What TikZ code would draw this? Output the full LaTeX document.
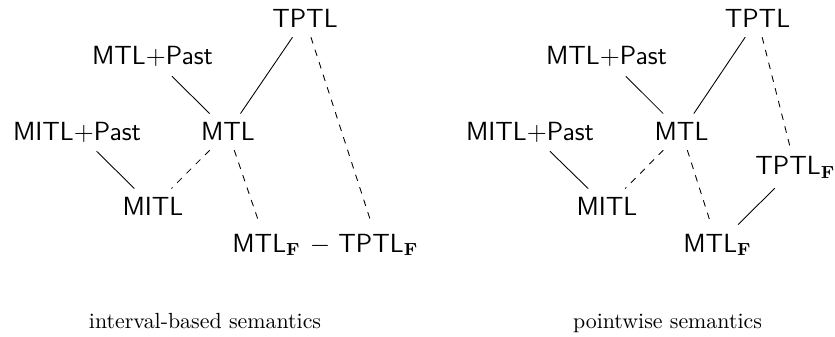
\documentclass[tikz,border=0pt]{standalone}
\begin{document}
\begin{tikzpicture}[x=0.4566pt,y=-0.4566pt,
  lbl/.style={font=\large\sffamily, inner sep=4pt},
  capt/.style={font=\normalsize\rmfamily},
  every path/.style={line width=0.4pt}]
\useasboundingbox (0,0) rectangle (835,337);
% left diagram
\node[lbl, anchor=base] (lt) at (305,28) {TPTL};
\node[lbl, anchor=base] (lmp) at (152.5,65) {MTL+Past};
\node[lbl, anchor=base] (lmip) at (77,140) {MITL+Past};
\node[lbl, anchor=base] (lm) at (228,141) {MTL};
\node[lbl, anchor=base] (lmi) at (153,216) {MITL};
\node[lbl, anchor=base west] (lmf) at (223.2,252) {MTL$_{\mathbf{F}}$};
\node[lbl, anchor=base] (ldash) at (320,252) {$-$};
\node[lbl, anchor=base west] (ltf) at (329.2,252) {TPTL$_{\mathbf{F}}$};
\draw (lmp) -- (lm);
\draw (lt) -- (lm);
\draw (lmip) -- (lmi);
\draw[dashed] (lm) -- (lmi);
\draw[dashed] (lm) -- (lmf);
\draw[dashed] (lt) -- (ltf);
% right diagram
\node[lbl, anchor=base] (rt) at (757.5,28) {TPTL};
\node[lbl, anchor=base] (rmp) at (606.5,65) {MTL+Past};
\node[lbl, anchor=base] (rmip) at (530,140) {MITL+Past};
\node[lbl, anchor=base] (rm) at (681.5,141) {MTL};
\node[lbl, anchor=base] (rmi) at (607,216) {MITL};
\node[lbl, anchor=base west] (rtf) at (746.2,175) {TPTL$_{\mathbf{F}}$};
\node[lbl, anchor=base west] (rmf) at (674.2,252) {MTL$_{\mathbf{F}}$};
\draw (rmp) -- (rm);
\draw (rt) -- (rm);
\draw (rmip) -- (rmi);
\draw[dashed] (rm) -- (rmi);
\draw[dashed] (rm) -- (rmf);
\draw[dashed] (rt) -- (rtf);
\draw (rmf) -- (rtf);
% captions
\node[capt, anchor=base] (c1) at (205,328) {interval-based semantics};
\node[capt, anchor=base] (c2) at (667.5,328) {pointwise semantics};
\end{tikzpicture}
\end{document}
